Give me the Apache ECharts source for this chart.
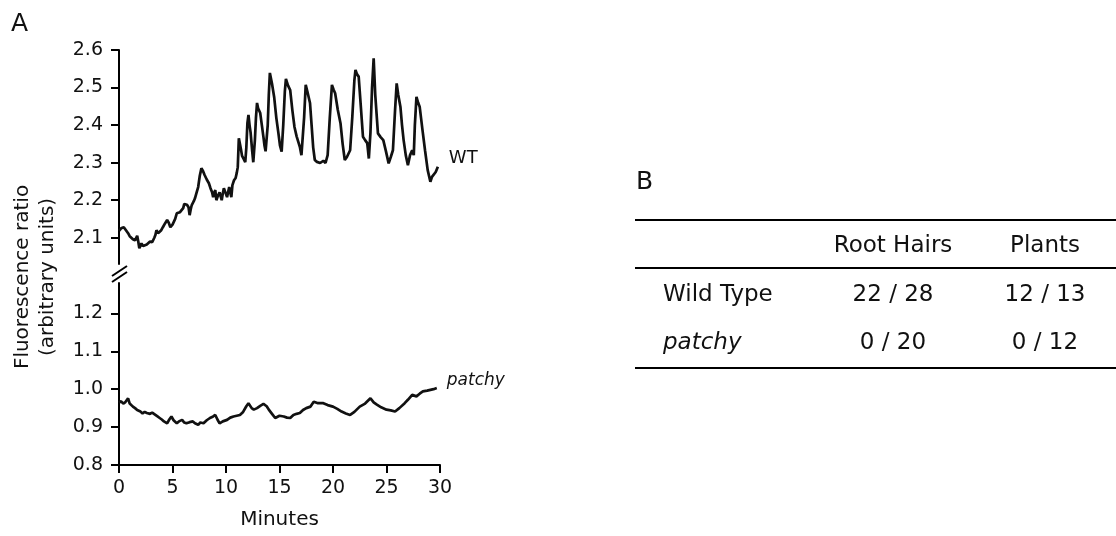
<!DOCTYPE html>
<html>
<head>
<meta charset="utf-8">
<script src="https://cdn.jsdelivr.net/npm/echarts@6/dist/echarts.min.js"></script>
<style>
  html, body { margin: 0; padding: 0; background: #fff; }
  #chart { width: 1116px; height: 536px; }
</style>
</head>
<body>
<div id="chart"></div>
<script>
const FONT = 'DejaVu Sans'

// panel A – WT trace (minutes, ratio)
const wtMinutes = [
  0.0, 0.2, 0.45, 0.7, 0.85, 1.0, 1.1, 1.3, 1.5, 1.7, 1.8, 1.9, 2.1, 2.25, 2.4, 2.6, 2.7, 2.9, 3.1, 3.3,
  3.4, 3.5, 3.65, 3.8, 3.95, 4.1, 4.3, 4.5, 4.65, 4.8, 5.0, 5.1, 5.25, 5.4, 5.55, 5.7, 5.85, 6.0, 6.1, 6.2,
  6.35, 6.5, 6.6, 6.7, 6.8, 7.0, 7.1, 7.25, 7.4, 7.55, 7.7, 7.85, 8.0, 8.2, 8.4, 8.55, 8.7, 8.8, 8.9, 9.0,
  9.1, 9.25, 9.4, 9.5, 9.6, 9.7, 9.8, 9.95, 10.1, 10.2, 10.3, 10.4, 10.5, 10.6, 10.75, 10.9, 11.0, 11.1, 11.2, 11.3,
  11.4, 11.5, 11.65, 11.8, 11.9, 12.0, 12.1, 12.2, 12.3, 12.45, 12.55, 12.7, 12.8, 12.9, 13.0, 13.2, 13.35, 13.5, 13.6, 13.7,
  13.8, 13.9, 14.0, 14.1, 14.3, 14.5, 14.7, 14.9, 15.05, 15.2, 15.35, 15.5, 15.6, 15.8, 16.0, 16.2, 16.4, 16.6, 16.9, 17.05,
  17.2, 17.3, 17.45, 17.6, 17.85, 18.0, 18.15, 18.3, 18.5, 18.8, 19.1, 19.3, 19.5, 19.7, 19.9, 20.05, 20.2, 20.45, 20.7, 20.9,
  21.1, 21.3, 21.6, 21.8, 22.0, 22.1, 22.25, 22.4, 22.6, 22.8, 23.0, 23.2, 23.35, 23.5, 23.65, 23.8, 23.95, 24.2, 24.45, 24.7,
  24.95, 25.2, 25.4, 25.6, 25.8, 25.95, 26.1, 26.3, 26.45, 26.6, 26.8, 27.0, 27.2, 27.4, 27.55, 27.65, 27.8, 27.95, 28.1, 28.35,
  28.6, 28.85, 29.1, 29.25, 29.4, 29.6, 29.8
]
const wtRatio = [
  2.118, 2.125, 2.128, 2.118, 2.112, 2.104, 2.099, 2.096, 2.093, 2.105, 2.090, 2.072, 2.085, 2.078, 2.075, 2.082, 2.086, 2.090, 2.088, 2.100,
  2.107, 2.120, 2.112, 2.112, 2.120, 2.128, 2.138, 2.147, 2.140, 2.128, 2.135, 2.141, 2.150, 2.165, 2.160, 2.168, 2.172, 2.179, 2.190, 2.195,
  2.188, 2.181, 2.160, 2.175, 2.187, 2.198, 2.205, 2.220, 2.235, 2.265, 2.285, 2.278, 2.267, 2.255, 2.245, 2.232, 2.221, 2.208, 2.220, 2.227,
  2.200, 2.212, 2.221, 2.210, 2.200, 2.218, 2.232, 2.220, 2.208, 2.222, 2.235, 2.220, 2.208, 2.240, 2.253, 2.259, 2.272, 2.288, 2.365, 2.350,
  2.335, 2.318, 2.310, 2.301, 2.340, 2.405, 2.427, 2.400, 2.380, 2.330, 2.301, 2.360, 2.420, 2.459, 2.445, 2.432, 2.400, 2.368, 2.345, 2.330,
  2.335, 2.400, 2.480, 2.539, 2.510, 2.475, 2.420, 2.378, 2.345, 2.329, 2.400, 2.490, 2.523, 2.505, 2.493, 2.440, 2.395, 2.370, 2.342, 2.320,
  2.315, 2.420, 2.507, 2.490, 2.459, 2.400, 2.340, 2.307, 2.302, 2.299, 2.305, 2.299, 2.320, 2.420, 2.507, 2.495, 2.485, 2.440, 2.405, 2.350,
  2.307, 2.315, 2.333, 2.420, 2.520, 2.547, 2.535, 2.529, 2.450, 2.369, 2.360, 2.352, 2.311, 2.380, 2.500, 2.578, 2.480, 2.378, 2.368, 2.360,
  2.330, 2.298, 2.315, 2.333, 2.440, 2.511, 2.480, 2.449, 2.400, 2.360, 2.320, 2.293, 2.320, 2.333, 2.320, 2.400, 2.475, 2.460, 2.449, 2.390,
  2.333, 2.280, 2.249, 2.262, 2.262, 2.275, 2.289
]

// panel A – patchy trace
const patchyMinutes = [
  0.0, 0.2, 0.4, 0.6, 0.85, 1.0, 1.3, 1.5, 1.7, 2.0, 2.2, 2.4, 2.6, 2.9, 3.1, 3.4, 3.6, 3.8, 4.0, 4.2,
  4.5, 4.7, 4.9, 5.1, 5.4, 5.6, 5.9, 6.1, 6.3, 6.6, 6.9, 7.1, 7.4, 7.6, 7.9, 8.2, 8.5, 8.8, 9.0, 9.2,
  9.4, 9.7, 10.1, 10.4, 10.7, 11.0, 11.3, 11.6, 11.9, 12.1, 12.4, 12.6, 12.9, 13.2, 13.5, 13.8, 14.0, 14.3, 14.6, 15.0,
  15.4, 15.7, 16.0, 16.3, 16.6, 16.9, 17.2, 17.5, 17.9, 18.2, 18.6, 19.1, 19.5, 20.0, 20.4, 20.8, 21.2, 21.6, 22.0, 22.5,
  23.0, 23.5, 23.8, 24.1, 24.5, 25.0, 25.4, 25.8, 26.2, 26.7, 27.0, 27.4, 27.8, 28.1, 28.4, 28.8, 29.1, 29.4, 29.7
]
const patchyRatio = [
  0.965, 0.968, 0.962, 0.966, 0.976, 0.962, 0.954, 0.950, 0.945, 0.941, 0.936, 0.940, 0.937, 0.935, 0.938, 0.932, 0.928, 0.924, 0.920, 0.915,
  0.910, 0.920, 0.928, 0.918, 0.910, 0.915, 0.919, 0.912, 0.910, 0.913, 0.915, 0.910, 0.906, 0.912, 0.910, 0.918, 0.924, 0.928, 0.932, 0.920,
  0.910, 0.915, 0.919, 0.925, 0.928, 0.930, 0.932, 0.940, 0.955, 0.963, 0.950, 0.946, 0.950, 0.956, 0.961, 0.955, 0.946, 0.935, 0.924, 0.930,
  0.928, 0.925, 0.924, 0.932, 0.935, 0.937, 0.945, 0.950, 0.954, 0.967, 0.963, 0.963, 0.958, 0.954, 0.948, 0.941, 0.936, 0.932, 0.940, 0.954,
  0.962, 0.976, 0.965, 0.959, 0.952, 0.946, 0.944, 0.941, 0.950, 0.963, 0.972, 0.985, 0.981, 0.988, 0.994, 0.996, 0.998, 1.000, 1.003
]

const xTicks = [0, 5, 10, 15, 20, 25, 30]
const upperTicks = [2.1, 2.2, 2.3, 2.4, 2.5, 2.6]
const lowerTicks = [0.8, 0.9, 1.0, 1.1, 1.2]

// panel B – table
const tableColumns = ['Root Hairs', 'Plants']
const tableRows = ['Wild Type', 'patchy']
const rootHairCounts = ['22 / 28', '0 / 20']
const plantCounts = ['12 / 13', '0 / 12']

const pairs = (xs, ys) => xs.map((x, i) => [x, ys[i]])

const axisLineStyle = { color: '#000', width: 2 }
const labelStyle = { color: '#111', fontSize: 19, fontFamily: FONT }

function yAxisFor(gridIndex, min, max, ticks) {
  return {
    type: 'value',
    gridIndex,
    min,
    max,
    axisLine: { show: true, lineStyle: axisLineStyle },
    axisTick: { show: true, length: 8, lineStyle: axisLineStyle, customValues: ticks },
    axisLabel: {
      ...labelStyle,
      margin: 16,
      customValues: ticks,
      formatter: v => v.toFixed(1)
    },
    splitLine: { show: false }
  }
}

// table graphics
const tableLeft = 635
const tableRight = 1116
const ruleYs = [220, 268, 368]
const rowYs = [295, 343]
const headerY = 246
const colXs = [893, 1045]
const tableFont = '23px "' + FONT + '"'

const tableGraphics = []
ruleYs.forEach(y => {
  tableGraphics.push({
    type: 'line',
    shape: { x1: tableLeft, y1: y, x2: tableRight, y2: y },
    style: { stroke: '#000', lineWidth: 2.2 }
  })
})
tableColumns.forEach((c, i) => {
  tableGraphics.push({
    type: 'text', x: colXs[i], y: headerY,
    style: { text: c, font: tableFont, fill: '#111', align: 'center', verticalAlign: 'middle' }
  })
})
tableRows.forEach((r, i) => {
  tableGraphics.push({
    type: 'text', x: 663, y: rowYs[i],
    style: {
      text: r,
      font: (i === 1 ? 'italic ' : '') + tableFont,
      fill: '#111', align: 'left', verticalAlign: 'middle'
    }
  })
  tableGraphics.push({
    type: 'text', x: colXs[0], y: rowYs[i],
    style: { text: rootHairCounts[i], font: tableFont, fill: '#111', align: 'center', verticalAlign: 'middle' }
  })
  tableGraphics.push({
    type: 'text', x: colXs[1], y: rowYs[i],
    style: { text: plantCounts[i], font: tableFont, fill: '#111', align: 'center', verticalAlign: 'middle' }
  })
})

const chart = echarts.init(document.getElementById('chart'))

chart.setOption({
  animation: false,
  backgroundColor: '#fff',
  grid: [
    { left: 119, width: 321, top: 50, height: 214, outerBoundsMode: 'none' },
    { left: 119, width: 321, top: 283, height: 182, outerBoundsMode: 'none' }
  ],
  xAxis: [
    { type: 'value', gridIndex: 0, min: 0, max: 30, show: false },
    {
      type: 'value',
      gridIndex: 1,
      min: 0,
      max: 30,
      interval: 5,
      axisLine: { show: true, lineStyle: axisLineStyle },
      axisTick: { show: true, length: 8, lineStyle: axisLineStyle, customValues: xTicks },
      axisLabel: { ...labelStyle, margin: 14, customValues: xTicks },
      splitLine: { show: false },
      name: 'Minutes',
      nameLocation: 'middle',
      nameGap: 45,
      nameTextStyle: { color: '#111', fontSize: 20, fontFamily: FONT }
    }
  ],
  yAxis: [
    yAxisFor(0, 2.03, 2.6, upperTicks),
    yAxisFor(1, 0.8, 1.28, lowerTicks)
  ],
  series: [
    {
      name: 'WT',
      type: 'line',
      xAxisIndex: 0,
      yAxisIndex: 0,
      showSymbol: false,
      lineStyle: { color: '#111', width: 2.7 },
      endLabel: {
        show: true,
        formatter: 'WT',
        offset: [3, -8],
        color: '#111',
        fontSize: 18,
        fontFamily: FONT
      },
      data: pairs(wtMinutes, wtRatio)
    },
    {
      name: 'patchy',
      type: 'line',
      xAxisIndex: 1,
      yAxisIndex: 1,
      showSymbol: false,
      lineStyle: { color: '#111', width: 2.7 },
      endLabel: {
        show: true,
        formatter: 'patchy',
        offset: [2, -7],
        color: '#111',
        fontSize: 17,
        fontStyle: 'italic',
        fontFamily: FONT
      },
      data: pairs(patchyMinutes, patchyRatio)
    }
  ],
  graphic: [
    {
      type: 'text', x: 11, y: 24,
      style: { text: 'A', font: '25px "' + FONT + '"', fill: '#111', verticalAlign: 'middle' }
    },
    {
      type: 'text', x: 636, y: 182,
      style: { text: 'B', font: '25px "' + FONT + '"', fill: '#111', verticalAlign: 'middle' }
    },
    {
      type: 'text', x: 35, y: 277, rotation: Math.PI / 2,
      style: {
        text: 'Fluorescence ratio\n(arbitrary units)',
        font: '20px "' + FONT + '"',
        lineHeight: 25,
        fill: '#111',
        align: 'center',
        verticalAlign: 'middle'
      }
    },
    // axis break marks
    {
      type: 'line',
      shape: { x1: 112, y1: 276, x2: 127, y2: 266 },
      style: { stroke: '#000', lineWidth: 2 }
    },
    {
      type: 'line',
      shape: { x1: 112, y1: 282, x2: 127, y2: 272 },
      style: { stroke: '#000', lineWidth: 2 }
    },
    ...tableGraphics
  ]
})
</script>
</body>
</html>
